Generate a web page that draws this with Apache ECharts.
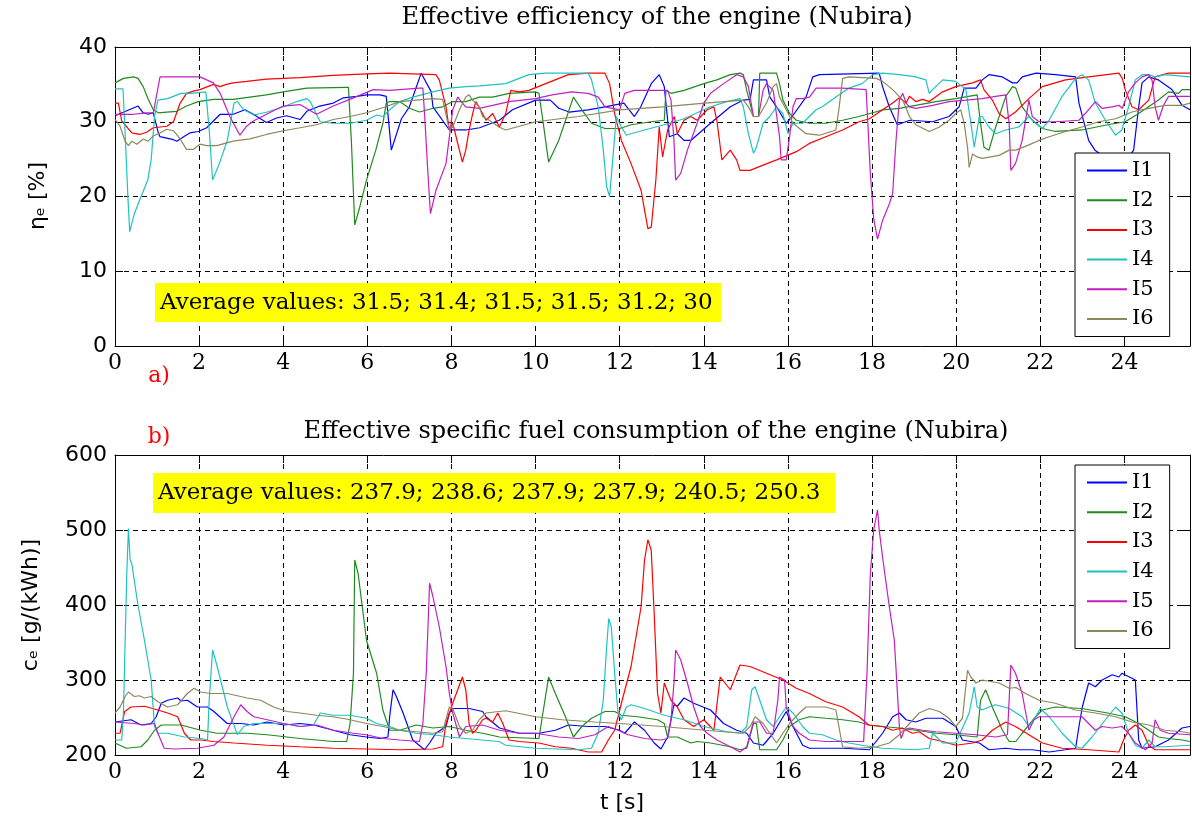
<!DOCTYPE html>
<html>
<head>
<meta charset="utf-8">
<script src="https://cdn.jsdelivr.net/npm/echarts@6/dist/echarts.min.js"></script>
<style>
html,body{margin:0;padding:0;background:#fff;}
#chart{width:1192px;height:830px;}
</style>
</head>
<body>
<div id="chart"></div>
<script>
// ---------------- DATA (time t [s], value) ----------------
const seriesNames = ['I1', 'I2', 'I3', 'I4', 'I5', 'I6'];
const seriesColors = ['#0000ff', '#1f8a1f', '#ff0000', '#1fc2c2', '#c21fc2', '#8c875c'];

const topTitle = 'Effective efficiency of the engine (Nubira)';
const bottomTitle = 'Effective specific fuel consumption of the engine (Nubira)';
const topAverages = 'Average values: 31.5; 31.4; 31.5; 31.5; 31.2; 30';
const bottomAverages = 'Average values: 237.9; 238.6; 237.9; 237.9; 240.5; 250.3';

// Effective efficiency eta_e [%]
const eta_I1 = [[0,30.8],[0.55,32.1],[0.67,31.2],[0.79,31],[0.91,31.2],[1.03,28.5],[1.07,28],[1.39,27.6],[1.47,27.4],[1.66,28.1],[1.78,28.5],[1.98,28.7],[2.18,29.2],[2.5,31],[2.81,31],[3.09,31.6],[3.29,31],[3.6,29.9],[3.84,30.5],[4.08,30.8],[4.4,30.3],[4.56,31.4],[4.87,32.1],[5.19,32.5],[5.43,33.2],[5.75,33.4],[5.98,33.6],[6.3,33.6],[6.45,33.4],[6.57,26.2],[6.81,30.4],[7.0,32],[7.28,36.5],[7.52,34],[7.56,32],[7.95,28.9],[8.34,28.9],[8.67,29.2],[9.14,30.2],[9.45,31.6],[10,32.9],[10.35,32.9],[10.55,31.8],[10.8,31.3],[11.25,31.6],[11.65,32],[12.1,32.5],[12.35,30.7],[12.5,32],[12.75,35.1],[12.94,36.3],[13.06,34.7],[13.18,28],[13.37,28.4],[13.53,27.5],[13.69,27.5],[14.16,29.8],[14.63,32],[14.94,32.9],[15.1,33],[15.18,35.6],[15.49,35.6],[15.57,33.3],[15.73,32],[15.96,29.8],[16.1,30.7],[16.43,33.3],[16.59,36],[16.75,36.3],[18.17,36.5],[18.25,34.7],[18.41,32],[18.6,29.6],[18.9,30.2],[19.44,30],[19.83,30.7],[20.07,32],[20.19,34.5],[20.47,34.5],[20.62,35.6],[20.78,36.3],[21.1,36],[21.34,35.2],[21.45,35.2],[21.57,36],[21.9,36.5],[22.36,36.3],[22.84,36],[22.92,32.5],[23.15,27.5],[23.3,26.2],[23.6,25],[24.0,24.5],[24.22,26.2],[24.34,32],[24.42,35.2],[24.58,36],[24.81,35.6],[25.13,34.3],[25.37,32.2],[25.56,31.6]];
const eta_I2 = [[0,35.2],[0.2,35.8],[0.44,36],[0.55,35.8],[0.67,34.7],[0.79,33],[0.91,31.6],[1.03,31.2],[1.23,31.3],[1.47,31.4],[1.7,32.1],[1.98,32.7],[2.34,33],[2.81,33],[3.6,33.6],[4.0,34],[4.56,34.5],[5.5,34.6],[5.55,34.6],[5.62,27.5],[5.7,16.2],[5.82,18.6],[5.98,22.2],[6.2,26.2],[6.37,29.8],[6.45,32.5],[6.53,32.7],[6.77,32.7],[7.0,31.8],[7.24,31.3],[7.56,31.8],[7.79,32],[8.03,32.7],[8.34,32.7],[8.66,33.3],[8.98,33.3],[9.37,33.8],[10,34],[10.08,33.8],[10.16,30.7],[10.31,24.6],[10.55,27.5],[10.9,33.3],[11.1,31.6],[11.33,29.8],[11.65,29.1],[12,29.1],[12.27,29.6],[12.75,30],[13.06,30.2],[13.1,34.2],[13.22,33.8],[13.53,34.2],[14,35.1],[14.31,35.6],[14.63,36.3],[14.86,36.5],[14.94,36.3],[15.02,34.2],[15.18,30.7],[15.3,30.7],[15.33,36.5],[15.73,36.5],[15.8,35.1],[15.88,32.9],[16.04,31.1],[16.2,30.2],[16.51,29.8],[16.9,29.8],[17.3,30.2],[17.69,30.7],[18.08,31.3],[18.25,31.6],[18.65,31.8],[19.04,32.2],[19.52,32.7],[19.99,33.1],[20.5,33.6],[20.58,29.8],[20.66,26.6],[20.78,26.2],[20.94,29.3],[21.18,33.4],[21.34,34.7],[21.42,34.5],[21.57,32],[21.81,30.2],[22.05,29.1],[22.36,28.7],[22.99,28.9],[23.6,29.6],[24.02,30],[24.34,31.1],[24.81,32.9],[25.05,34],[25.29,33.8],[25.37,34.3],[25.56,34.3]];
const eta_I3 = [[0,32.5],[0.08,32.5],[0.16,30.1],[0.4,28.5],[0.59,28.3],[0.75,28.6],[0.91,29.2],[1.23,29.4],[1.39,30],[1.55,32.5],[1.7,33.8],[1.86,34.1],[2.02,34.3],[2.34,35],[2.5,34.7],[2.65,35],[2.81,35.2],[3.13,35.4],[3.6,35.7],[4.4,35.9],[5.19,36.2],[5.98,36.4],[6.53,36.5],[7.63,36.3],[7.71,35.6],[7.87,32],[7.95,28.9],[8.03,29.8],[8.26,24.6],[8.34,26.2],[8.42,28.9],[8.5,31],[8.58,32.7],[8.74,31.1],[8.82,30.2],[8.98,31.1],[9.14,29.3],[9.29,31.1],[9.41,34.2],[9.61,34],[9.84,34.2],[10.24,35.1],[10.78,36.3],[11.25,36.5],[11.65,36.5],[11.76,35.1],[11.88,31.1],[12.04,27.5],[12.27,24.4],[12.51,20.8],[12.59,18.2],[12.67,15.7],[12.75,15.9],[12.86,22.2],[12.94,29.3],[13.02,25.3],[13.14,28.9],[13.3,30.7],[13.37,28.4],[13.53,30.2],[13.69,30.7],[13.84,30.2],[14.08,31.6],[14.24,32],[14.31,30.2],[14.43,24.9],[14.63,26.2],[14.78,24.9],[14.86,23.5],[15.1,23.5],[15.41,24.2],[15.73,24.9],[16.2,26],[16.51,27.1],[16.9,28],[17.3,28.9],[17.69,30],[17.94,30.4],[18.25,31.6],[18.49,32.5],[18.65,33.2],[18.81,32.5],[18.89,33.4],[19.04,32.7],[19.2,33],[19.36,32.7],[19.68,34],[19.99,34.7],[20.39,35.2],[20.58,35.6],[20.66,34.3],[20.86,32.9],[21.02,31.1],[21.18,30.4],[21.41,31.3],[21.73,33.1],[22.05,34.7],[22.6,35.6],[23.15,36],[23.87,36.5],[23.95,35.8],[24.02,34.3],[24.18,32],[24.34,31.6],[24.58,32.9],[24.73,36],[25.05,36.5],[25.56,36.5]];
const eta_I4 = [[0,34.4],[0.19,34.4],[0.23,29.8],[0.31,19.5],[0.35,15.3],[0.46,17.7],[0.62,20],[0.78,22.2],[0.86,24.9],[0.94,30.7],[1.02,32.9],[1.25,33.1],[1.57,33.8],[1.8,33.8],[2.16,34],[2.2,33.8],[2.24,28.9],[2.32,22.2],[2.48,24.4],[2.67,27.5],[2.83,32.5],[2.91,32.7],[3.06,31.6],[3.3,30.9],[3.62,31.3],[4.01,32],[4.32,32.7],[4.56,33.1],[4.64,32.7],[4.88,30],[5.19,29.8],[5.59,29.8],[5.98,30.2],[6.22,30.9],[6.37,30.7],[6.53,31.6],[6.77,32.7],[7.08,33.3],[7.56,34],[7.95,34.5],[8.34,34.7],[8.67,34.8],[9.29,35.1],[9.84,36.3],[10.24,36.5],[11.25,36.5],[11.33,35.6],[11.49,32],[11.61,26.2],[11.69,21.3],[11.76,20],[11.84,25.3],[11.92,30.7],[12.04,29.3],[12.16,28.2],[12.27,28.4],[12.59,28.9],[13.06,29.6],[13.53,30.4],[14,31.6],[14.16,32],[14.55,32.7],[14.86,33.1],[14.94,32],[15.06,28.4],[15.18,25.8],[15.25,26.6],[15.41,29.8],[15.57,30.7],[15.73,32],[15.88,31.1],[16.0,28.4],[16.12,29.8],[16.35,29.8],[16.51,30.7],[16.67,31.6],[16.82,32],[17.14,33.3],[17.45,34.5],[17.76,35.1],[18.02,36.3],[18.25,36.5],[18.65,36.3],[19.04,36],[19.28,35.6],[19.36,33.8],[19.44,34.3],[19.68,35.6],[19.99,35.4],[20.23,34.3],[20.35,29.8],[20.43,26.6],[20.55,30.7],[20.62,30.7],[20.78,29.3],[20.94,28.4],[21.18,28.9],[21.49,29.3],[21.73,30.7],[21.89,29.8],[22.05,29.1],[22.21,30.2],[22.52,33.4],[22.84,35.8],[22.99,36.3],[23.15,35.6],[23.31,32.5],[23.55,30.2],[23.79,28.2],[23.94,28.9],[24.1,32],[24.26,35.6],[24.42,36.3],[24.58,36.3],[24.73,36],[24.97,36.3],[25.56,36]];
const eta_I5 = [[0,31],[0.44,31],[0.75,31.2],[0.91,31.2],[1.07,36],[2.02,36],[2.18,35.6],[2.34,35.2],[2.5,33.8],[2.73,30.7],[2.97,28.2],[3.13,29.4],[3.29,30.1],[3.6,31],[4.0,32.1],[4.4,32.3],[4.79,31],[5.19,32.1],[5.67,33.2],[6.14,34.3],[6.53,34.2],[7.24,34.5],[7.32,34.5],[7.36,31.1],[7.44,23.1],[7.5,17.7],[7.63,20.8],[7.87,24.4],[7.95,28],[8.03,31.6],[8.15,33.3],[8.26,32.5],[8.34,32],[8.66,31.8],[8.98,32.2],[9.37,32.7],[10,33.1],[10.39,33.6],[10.86,34],[11.25,33.8],[11.49,33.3],[11.65,32],[12,31.6],[12.12,33.8],[12.35,34.2],[13.14,34.2],[13.22,32.9],[13.29,27.5],[13.33,22.2],[13.45,23.1],[13.61,26.2],[13.84,29.8],[14,32.5],[14.16,33.8],[14.47,35.1],[14.78,36.3],[14.94,36],[15.06,34.7],[15.18,30.7],[15.3,30.7],[15.41,34.2],[15.49,35.1],[15.65,34.2],[15.8,28],[15.84,24.9],[15.96,24.9],[16.04,28],[16.12,32],[16.2,33.1],[16.35,33.1],[16.51,33.3],[16.67,34.5],[17.3,34.5],[17.86,34.3],[17.9,29.8],[17.96,23],[18.04,17],[18.13,14.3],[18.25,16.8],[18.41,19],[18.49,20.4],[18.57,27.5],[18.65,32.9],[18.73,33.8],[18.81,32.5],[18.89,32],[19.04,31.8],[19.44,32.2],[19.83,32.7],[20.23,32.9],[20.62,33.1],[20.94,33.4],[21.18,33.6],[21.26,29.8],[21.3,23.5],[21.41,24.4],[21.57,27.5],[21.73,32.9],[21.81,30.7],[21.97,30],[22.36,30],[22.92,30.2],[23.07,31.1],[23.31,32.7],[23.47,31.8],[23.71,32],[23.87,32.2],[23.95,31.8],[24.1,34],[24.26,35.2],[24.42,36],[24.58,36.3],[24.66,35.5],[24.73,32],[24.81,30.2],[24.93,32.2],[25.05,33.4],[25.56,33.4]];
const eta_I6 = [[0,30.3],[0.12,29.4],[0.24,27.4],[0.32,26.8],[0.4,27.4],[0.52,27],[0.67,27.7],[0.79,27.4],[0.91,28.1],[1.07,28.5],[1.23,29],[1.39,28.8],[1.55,27.7],[1.7,26.3],[1.86,26.3],[2.02,27],[2.18,26.8],[2.42,26.8],[2.81,27.4],[3.21,27.7],[3.6,28.3],[4.0,28.8],[4.4,29.2],[4.79,29.6],[5.19,30.3],[5.59,30.7],[5.98,31.2],[6.38,31.9],[6.77,32.7],[7.16,32.9],[7.56,33.1],[7.79,33],[7.95,28.9],[8.03,29.3],[8.19,31.6],[8.34,33.3],[8.42,33.6],[8.5,32.9],[8.66,32],[8.74,30.7],[8.9,30.2],[9.13,29.3],[9.29,28.9],[10,30],[11.02,30.7],[12,31.6],[13.02,32],[14.02,32.5],[14.94,32.9],[15.06,32],[15.18,30.7],[15.3,30.7],[15.49,32.5],[15.65,34.7],[15.73,35.1],[15.8,33.3],[15.96,31.6],[16.12,29.8],[16.43,28.4],[16.75,28.2],[17.14,28.9],[17.22,32],[17.3,35.8],[17.45,36],[18.1,35.8],[18.25,35.4],[18.49,34.3],[18.73,32.9],[18.89,30.7],[19.04,29.6],[19.36,28.7],[19.6,29.3],[19.83,30.2],[19.99,31.1],[20.11,31.6],[20.19,29.8],[20.27,26.6],[20.31,23.9],[20.39,25.7],[20.5,25.3],[20.62,25.1],[21.02,25.5],[21.26,26.2],[21.42,26.2],[21.73,26.9],[21.97,27.5],[22.21,28],[22.6,28.7],[22.99,29.3],[23.39,30],[23.79,30.4],[24.18,31.3],[24.58,31.8],[24.97,32.2],[25.37,32.2],[25.56,32.5]];

// Effective specific fuel consumption c_e [g/(kWh)]
const ce_I1 = [[0,244],[0.38,247],[0.62,240],[0.86,242],[0.98,251],[1.1,269],[1.25,273],[1.49,276],[1.57,272],[1.72,273],[1.96,264],[2.2,264],[2.35,258],[2.67,242],[2.99,242],[3.3,240],[3.62,244],[4.01,240],[4.4,242],[4.72,240],[5.19,233],[5.59,227],[5.98,224],[6.3,222],[6.49,224],[6.53,251],[6.61,287],[6.69,278],[6.85,256],[7.08,220],[7.36,207],[7.48,216],[7.63,229],[7.87,238],[7.95,256],[8.03,262],[8.42,262],[8.74,258],[8.82,251],[9.14,236],[9.61,229],[10.08,229],[10.47,233],[10.78,240],[11.25,238],[11.65,238],[12,233],[12.12,229],[12.35,244],[12.59,233],[12.82,216],[12.98,208],[13.14,224],[13.29,267],[13.37,265],[13.53,276],[13.76,269],[14.16,260],[14.47,242],[14.78,233],[15.02,229],[15.18,216],[15.41,213],[15.65,229],[15.96,258],[16.12,238],[16.35,213],[16.51,209],[17.3,209],[17.94,207],[18.25,229],[18.49,251],[18.65,256],[18.81,247],[19.04,244],[19.28,249],[19.68,249],[19.99,238],[20.15,220],[20.55,216],[20.78,207],[21.18,209],[21.49,207],[21.81,207],[22.21,204],[22.6,207],[22.84,209],[22.92,238],[23.0,264],[23.15,296],[23.31,291],[23.47,300],[23.71,307],[23.87,304],[23.94,309],[24.26,300],[24.34,220],[24.42,209],[24.73,211],[25.05,220],[25.37,236],[25.56,238]];
const ce_I2 = [[0,216],[0.27,209],[0.62,211],[0.78,220],[0.94,233],[1.1,240],[1.57,240],[2.04,233],[2.43,229],[3.14,229],[3.62,227],[4.4,222],[5.19,218],[5.51,218],[5.59,242],[5.67,309],[5.7,460],[5.78,442],[5.98,353],[6.22,309],[6.37,260],[6.53,233],[6.77,233],[7.16,240],[7.56,236],[7.95,238],[8.34,233],[8.74,229],[9.14,224],[10.08,222],[10.16,251],[10.31,304],[10.47,282],[10.71,251],[10.9,224],[11.1,238],[11.33,249],[11.65,258],[11.88,258],[12.04,253],[12.43,251],[12.9,247],[13.06,242],[13.14,224],[13.37,224],[13.69,216],[13.84,218],[14.16,216],[14.63,211],[14.86,207],[15.02,209],[15.18,242],[15.25,242],[15.33,207],[15.73,207],[15.88,220],[16.04,238],[16.27,247],[16.51,251],[16.9,249],[17.3,247],[17.69,244],[17.92,240],[18.25,238],[18.65,236],[19.04,233],[19.52,229],[19.99,227],[20.5,224],[20.58,273],[20.7,287],[20.86,264],[21.1,233],[21.26,218],[21.42,218],[21.57,229],[21.89,251],[22.05,260],[22.36,264],[22.99,262],[23.6,256],[24.02,251],[24.34,242],[24.58,233],[24.81,224],[25.05,222],[25.37,220],[25.56,218]];
const ce_I3 = [[0,229],[0.12,229],[0.23,258],[0.38,264],[0.7,265],[1.02,260],[1.25,256],[1.49,251],[1.65,229],[1.8,220],[2.04,220],[2.35,218],[2.83,216],[3.62,213],[4.4,211],[5.19,209],[5.98,208],[6.77,207],[7.56,208],[7.79,211],[7.87,242],[8.03,269],[8.26,304],[8.34,287],[8.42,242],[8.5,229],[8.58,233],[8.74,247],[8.82,249],[8.98,244],[9.1,256],[9.22,242],[9.37,220],[9.61,218],[10.08,216],[10.47,211],[10.86,209],[11.25,204],[11.57,204],[11.73,220],[11.88,233],[12.04,269],[12.27,318],[12.51,398],[12.59,460],[12.67,487],[12.75,473],[12.82,389],[12.9,282],[12.98,256],[13.06,296],[13.22,273],[13.37,264],[13.53,247],[13.76,238],[14,247],[14.24,233],[14.39,304],[14.63,287],[14.86,320],[15.1,318],[15.49,309],[15.88,300],[16.2,289],[16.51,282],[16.9,271],[17.3,264],[17.69,251],[17.92,240],[18.25,238],[18.49,233],[18.72,236],[18.96,229],[19.12,231],[19.36,222],[19.68,218],[19.99,213],[20.39,216],[20.62,220],[20.86,233],[21.18,244],[21.41,238],[21.73,227],[22.05,216],[22.52,209],[23.15,207],[23.87,204],[23.98,220],[24.1,233],[24.26,240],[24.42,233],[24.58,213],[24.73,207],[25.56,207]];
const ce_I4 = [[0,220],[0.16,220],[0.2,256],[0.28,442],[0.32,502],[0.36,460],[0.4,455],[0.54,402],[0.7,353],[0.86,300],[0.94,238],[1.02,229],[1.25,229],[1.65,224],[2.04,222],[2.2,220],[2.24,273],[2.32,340],[2.43,318],[2.67,264],[2.91,227],[3.06,238],[3.3,242],[4.01,242],[4.4,238],[4.72,240],[4.88,256],[5.19,253],[5.59,253],[5.98,249],[6.22,242],[6.53,238],[6.77,233],[7.16,229],[7.56,227],[7.95,224],[8.34,222],[9.13,218],[9.29,213],[10,209],[11.02,207],[11.33,209],[11.49,229],[11.61,273],[11.69,344],[11.74,382],[11.8,371],[11.88,309],[11.96,256],[12.04,247],[12.16,264],[12.27,267],[12.59,262],[13.06,253],[13.53,247],[14,238],[14.55,231],[14.86,229],[15.02,238],[15.14,287],[15.22,291],[15.33,273],[15.49,247],[15.65,238],[15.8,251],[15.96,264],[16.12,256],[16.35,238],[16.51,229],[16.82,227],[17.14,220],[17.45,216],[17.76,213],[18.25,209],[19.04,207],[19.36,209],[19.44,229],[19.68,216],[19.99,216],[20.31,256],[20.43,291],[20.5,264],[20.62,260],[20.78,264],[20.94,267],[21.26,262],[21.57,251],[21.73,238],[21.89,251],[22.0,262],[22.21,251],[22.52,229],[22.84,211],[22.99,209],[23.23,224],[23.55,247],[23.79,264],[23.94,256],[24.1,229],[24.26,213],[24.42,209],[24.58,220],[24.73,211],[24.97,211],[25.56,213]];
const ce_I5 = [[0,244],[0.46,242],[0.7,240],[0.94,242],[1.02,229],[1.17,209],[1.41,208],[1.96,209],[2.35,213],[2.59,224],[2.83,251],[2.99,267],[3.14,258],[3.3,251],[3.62,247],[4.01,242],[4.4,238],[4.8,240],[5.19,233],[5.67,229],[5.98,227],[6.37,222],[6.77,220],[7.24,218],[7.32,242],[7.4,309],[7.48,429],[7.56,411],[7.71,371],[7.87,318],[7.95,282],[8.03,256],[8.19,224],[8.34,238],[8.74,240],[9.14,233],[9.61,229],[10,229],[10.55,224],[11.02,222],[11.41,227],[11.73,238],[11.96,233],[12.2,227],[12.59,222],[12.98,220],[13.14,222],[13.22,247],[13.29,296],[13.33,340],[13.45,327],[13.61,296],[13.76,264],[13.92,238],[14.08,229],[14.31,220],[14.63,211],[14.86,204],[15.02,211],[15.18,244],[15.33,244],[15.49,229],[15.65,229],[15.76,273],[15.8,304],[15.92,300],[15.96,264],[16.12,238],[16.27,229],[16.51,220],[16.9,218],[17.8,218],[17.88,309],[17.96,442],[18.04,500],[18.13,527],[18.17,500],[18.25,464],[18.41,398],[18.53,353],[18.65,238],[18.69,222],[18.77,233],[18.89,236],[19.2,233],[19.52,231],[19.99,229],[20.47,227],[20.94,224],[21.22,227],[21.3,320],[21.41,309],[21.57,282],[21.73,233],[21.85,247],[21.97,251],[22.99,251],[23.15,242],[23.31,233],[23.47,238],[23.71,236],[23.94,238],[24.1,229],[24.26,216],[24.5,207],[24.66,216],[24.73,247],[24.85,233],[25.05,229],[25.56,227]];
const ce_I6 = [[0,256],[0.12,264],[0.24,278],[0.32,284],[0.46,278],[0.58,279],[0.7,276],[0.86,278],[1.02,271],[1.25,264],[1.49,267],[1.72,282],[1.88,289],[2.04,284],[2.28,282],[2.67,282],[2.99,278],[3.14,276],[3.46,273],[3.77,264],[4.09,258],[4.4,256],[4.8,253],[5.19,251],[5.59,247],[5.98,242],[6.37,238],[6.77,233],[7.16,231],[7.56,229],[7.79,231],[7.95,264],[8.03,262],[8.19,238],[8.34,229],[8.5,233],[8.66,247],[8.82,256],[9.13,258],[9.29,259],[10,251],[10.63,247],[11.41,244],[12,242],[13.02,238],[14.02,233],[14.94,229],[15.1,238],[15.22,251],[15.41,242],[15.57,229],[15.73,216],[15.88,229],[16.04,242],[16.27,256],[16.43,264],[16.9,264],[17.14,260],[17.3,211],[17.69,209],[18.1,211],[18.41,216],[18.65,227],[18.89,242],[19.12,256],[19.36,262],[19.6,258],[19.83,249],[19.99,238],[20.15,249],[20.27,313],[20.35,304],[20.47,296],[20.62,300],[21.02,296],[21.26,289],[21.42,290],[21.65,282],[21.97,273],[22.36,269],[22.84,260],[23.31,256],[23.79,251],[24.18,244],[24.58,240],[24.97,233],[25.37,231],[25.56,229]];

const etaSeries = [eta_I1, eta_I2, eta_I3, eta_I4, eta_I5, eta_I6];
const ceSeries = [ce_I1, ce_I2, ce_I3, ce_I4, ce_I5, ce_I6];

// axis ranges
const tMin = 0, tMax = 25.56, tStep = 2;
const etaMin = 0, etaMax = 40, etaStep = 10;
const ceMin = 200, ceMax = 600, ceStep = 100;

// ---------------- CHART ----------------
const chart = echarts.init(document.getElementById('chart'), null, {renderer: 'canvas'});
const SERIF = '"DejaVu Serif", serif';
const SANS = '"DejaVu Sans", sans-serif';
const BLACK = '#000';

function xLabelFmt(v) {
  const k = v / tStep;
  return Math.abs(k - Math.round(k)) < 1e-6 ? String(Math.round(v)) : '';
}

function xAxes(gi) {
  const common = {
    gridIndex: gi, type: 'value', min: tMin, max: tMax, interval: tStep,
    axisLine: {show: true, onZero: false, lineStyle: {color: BLACK, width: 1}},
    axisTick: {show: true, inside: true, length: 8, lineStyle: {color: BLACK, width: 1}}
  };
  return [
    Object.assign({}, common, {
      position: 'bottom',
      axisLabel: {show: true, color: BLACK, fontFamily: SERIF, fontSize: 22, margin: 6,
                  formatter: xLabelFmt, showMaxLabel: false},
      splitLine: {show: true, lineStyle: {color: BLACK, width: 1, type: [5, 4]}}
    }),
    Object.assign({}, common, {
      position: 'top', axisLabel: {show: false}, splitLine: {show: false}
    })
  ];
}
function yAxes(gi, mn, mx, step) {
  const common = {
    gridIndex: gi, type: 'value', min: mn, max: mx, interval: step,
    axisLine: {show: true, onZero: false, lineStyle: {color: BLACK, width: 1}},
    axisTick: {show: true, inside: true, length: 8, lineStyle: {color: BLACK, width: 1}}
  };
  return [
    Object.assign({}, common, {
      position: 'left',
      axisLabel: {show: true, color: BLACK, fontFamily: SANS, fontSize: 22, margin: 8},
      splitLine: {show: true, lineStyle: {color: BLACK, width: 1, type: [5, 4]}}
    }),
    Object.assign({}, common, {
      position: 'right', axisLabel: {show: false}, splitLine: {show: false}
    })
  ];
}

const series = [];
seriesNames.forEach((name, i) => {
  series.push({
    name: name, type: 'line', xAxisIndex: 0, yAxisIndex: 0,
    data: etaSeries[i], showSymbol: false, symbol: 'none', clip: true,
    lineStyle: {width: 1.2, color: seriesColors[i]}, itemStyle: {color: seriesColors[i]},
    animation: false, z: 3
  });
});
seriesNames.forEach((name, i) => {
  series.push({
    name: name, type: 'line', xAxisIndex: 2, yAxisIndex: 2,
    data: ceSeries[i], showSymbol: false, symbol: 'none', clip: true,
    lineStyle: {width: 1.2, color: seriesColors[i]}, itemStyle: {color: seriesColors[i]},
    animation: false, z: 3
  });
});

function legendAt(top) {
  return {
    data: seriesNames, orient: 'vertical', left: 1075, top: top,
    icon: 'rect', itemWidth: 40, itemHeight: 2, itemGap: 8.7, itemTextGap: 13,
    padding: [7, 16, 7, 12], backgroundColor: '#fff', borderColor: BLACK, borderWidth: 1,
    selectedMode: false, z: 10,
    textStyle: {color: BLACK, fontFamily: SERIF, fontSize: 21, lineHeight: 21}
  };
}

const option = {
  backgroundColor: '#fff',
  animation: false,
  grid: [
    {left: 115, top: 47, width: 1075, height: 299, containLabel: false},
    {left: 115, top: 455, width: 1075, height: 300, containLabel: false}
  ],
  xAxis: xAxes(0).concat(xAxes(1)),
  yAxis: yAxes(0, etaMin, etaMax, etaStep).concat(yAxes(1, ceMin, ceMax, ceStep)),
  legend: [legendAt(153), legendAt(465)],
  series: series,
  graphic: [
    {type: 'text', x: 657, y: 18, z: 100, style: {text: topTitle, font: '24px ' + SERIF, fill: BLACK, align: 'center', verticalAlign: 'middle'}},
    {type: 'text', x: 656, y: 432, z: 100, style: {text: bottomTitle, font: '24px ' + SERIF, fill: BLACK, align: 'center', verticalAlign: 'middle'}},
    {type: 'rect', z: 100, shape: {x: 155, y: 283, width: 566, height: 39}, style: {fill: '#ffff00'}},
    {type: 'text', x: 160, y: 303, z: 101, style: {text: topAverages, font: '23px ' + SERIF, fill: BLACK, align: 'left', verticalAlign: 'middle'}},
    {type: 'rect', z: 100, shape: {x: 153, y: 473, width: 682, height: 40}, style: {fill: '#ffff00'}},
    {type: 'text', x: 158, y: 493, z: 101, style: {text: bottomAverages, font: '23px ' + SERIF, fill: BLACK, align: 'left', verticalAlign: 'middle'}},
    {type: 'text', x: 159, y: 376, z: 100, style: {text: 'a)', font: '22px ' + SERIF, fill: '#ff0000', align: 'center', verticalAlign: 'middle'}},
    {type: 'text', x: 159, y: 437, z: 100, style: {text: 'b)', font: '22px ' + SERIF, fill: '#ff0000', align: 'center', verticalAlign: 'middle'}},
    {type: 'text', x: 622, y: 803, z: 100, style: {text: 't [s]', font: '22px ' + SANS, fill: BLACK, align: 'center', verticalAlign: 'middle'}},
    {type: 'text', x: 38, y: 196, rotation: Math.PI / 2, z: 100, style: {text: 'ηₑ [%]', font: '22px ' + SANS, fill: BLACK, align: 'center', verticalAlign: 'middle'}},
    {type: 'text', x: 31, y: 605, rotation: Math.PI / 2, z: 100, style: {text: 'cₑ [g/(kWh)]', font: '22px ' + SANS, fill: BLACK, align: 'center', verticalAlign: 'middle'}}
  ]
};
chart.setOption(option);
</script>
</body>
</html>
